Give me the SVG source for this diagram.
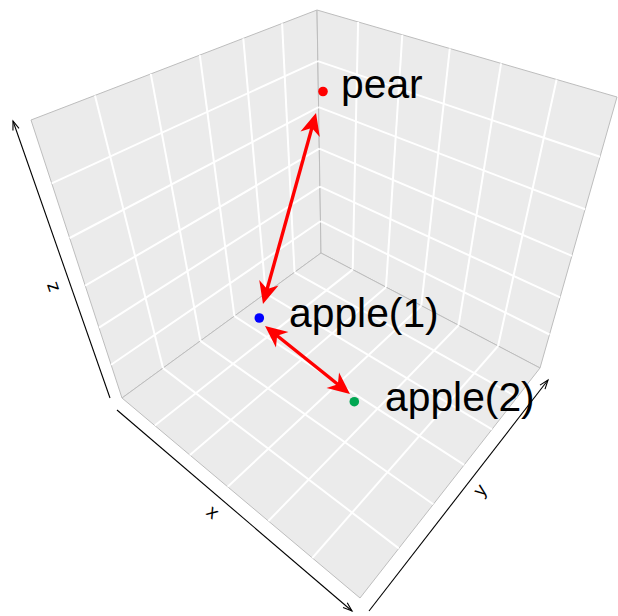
<svg xmlns="http://www.w3.org/2000/svg" width="618" height="616" viewBox="0 0 618 616">
<style>
.face{fill:#ebebeb;stroke:#bdbdbd;stroke-width:1;stroke-linejoin:round}
.grid line{stroke:#ffffff;stroke-width:2}
.axis{stroke:#000;stroke-width:1.1;fill:none;marker-end:url(#ax)}
.conn{stroke:#ff0000;stroke-width:3.4;fill:none;marker-start:url(#rh);marker-end:url(#rh)}
.lbl{font-family:"Liberation Sans",Arial,sans-serif;font-size:40.8px;fill:#000}
.albl{font-family:"Liberation Sans",Arial,sans-serif;font-size:19px;fill:#000;text-anchor:middle}
</style>
<defs>
<marker id="ax" markerUnits="userSpaceOnUse" markerWidth="20" markerHeight="20" viewBox="-10 -10 20 20" refX="0" refY="0" orient="auto">
<path d="M-9,-3.2 L0,0 L-9,3.2" fill="none" stroke="#000" stroke-width="1.1"/>
</marker>
<marker id="rh" markerUnits="userSpaceOnUse" markerWidth="40" markerHeight="40" viewBox="-20 -20 40 40" refX="0" refY="0" orient="auto-start-reverse">
<path d="M12,0 L-10,-10 L-3.5,0 L-10,10 Z" fill="#ff0000"/>
</marker>
</defs>
<rect width="618" height="616" fill="#ffffff"/>
<g id="panel">
<polygon class="face" points="317,10 31,120 122,398 321,253"/>
<polygon class="face" points="317,10 617,97 540,368 321,253"/>
<polygon class="face" points="321,253 122,398 360,598 540,368"/>
</g>
<g id="grid" class="grid">
<line x1="294.5" y1="272.3" x2="282.1" y2="23.4"/>
<line x1="265.7" y1="293.3" x2="243.3" y2="38.3"/>
<line x1="234.4" y1="316.1" x2="199.8" y2="55.1"/>
<line x1="200.4" y1="340.9" x2="150.8" y2="73.9"/>
<line x1="163.0" y1="368.1" x2="95.0" y2="95.4"/>
<line x1="320.5" y1="221.2" x2="111.1" y2="364.8"/>
<line x1="319.9" y1="186.6" x2="99.0" y2="327.6"/>
<line x1="319.3" y1="148.7" x2="85.2" y2="285.7"/>
<line x1="318.6" y1="107.1" x2="69.6" y2="238.0"/>
<line x1="317.8" y1="61.1" x2="51.7" y2="183.3"/>
<line x1="352.7" y1="269.6" x2="358.1" y2="21.9"/>
<line x1="386.0" y1="287.2" x2="402.3" y2="34.7"/>
<line x1="421.3" y1="305.7" x2="449.8" y2="48.5"/>
<line x1="458.6" y1="325.3" x2="501.1" y2="63.4"/>
<line x1="498.1" y1="346.0" x2="556.6" y2="79.5"/>
<line x1="320.5" y1="221.2" x2="549.5" y2="334.5"/>
<line x1="319.9" y1="186.6" x2="560.1" y2="297.3"/>
<line x1="319.3" y1="148.7" x2="571.9" y2="255.8"/>
<line x1="318.6" y1="107.1" x2="585.1" y2="209.3"/>
<line x1="317.8" y1="61.1" x2="600.0" y2="156.8"/>
<line x1="294.5" y1="272.3" x2="517.1" y2="397.2"/>
<line x1="265.7" y1="293.3" x2="492.0" y2="429.4"/>
<line x1="234.4" y1="316.1" x2="464.2" y2="464.9"/>
<line x1="200.4" y1="340.9" x2="433.3" y2="504.3"/>
<line x1="163.0" y1="368.1" x2="398.8" y2="548.4"/>
<line x1="352.7" y1="269.6" x2="154.8" y2="425.5"/>
<line x1="386.0" y1="287.2" x2="189.9" y2="455.1"/>
<line x1="421.3" y1="305.7" x2="227.7" y2="486.8"/>
<line x1="458.6" y1="325.3" x2="268.4" y2="521.0"/>
<line x1="498.1" y1="346.0" x2="312.3" y2="558.0"/>
</g>
<g id="axes">
<line class="axis" x1="110" y1="398" x2="13" y2="121"/>
<line class="axis" x1="117" y1="410" x2="352" y2="611"/>
<line class="axis" x1="369" y1="611" x2="548" y2="380"/>
<text class="albl" transform="translate(53,287) rotate(-109)" y="5">z</text>
<text class="albl" transform="translate(212,513) rotate(40)" y="5">x</text>
<text class="albl" transform="translate(481,491) rotate(-52)" y="5">y</text>
</g>
<g id="connectors">
<line class="conn" x1="266.2" y1="292.4" x2="312.8" y2="124.6"/>
<line class="conn" x1="274.4" y1="333.5" x2="340.6" y2="386.5"/>
</g>
<g id="pear">
<circle cx="323" cy="91.5" r="4.8" fill="#ff0000"/>
<text class="lbl" x="341" y="98">pear</text>
</g>
<g id="apple1">
<circle cx="259.3" cy="318" r="4.8" fill="#0000ff"/>
<text class="lbl" x="289" y="327">apple(1)</text>
</g>
<g id="apple2">
<circle cx="354.3" cy="401.7" r="4.8" fill="#00a651"/>
<text class="lbl" x="385" y="411">apple(2)</text>
</g>
</svg>
